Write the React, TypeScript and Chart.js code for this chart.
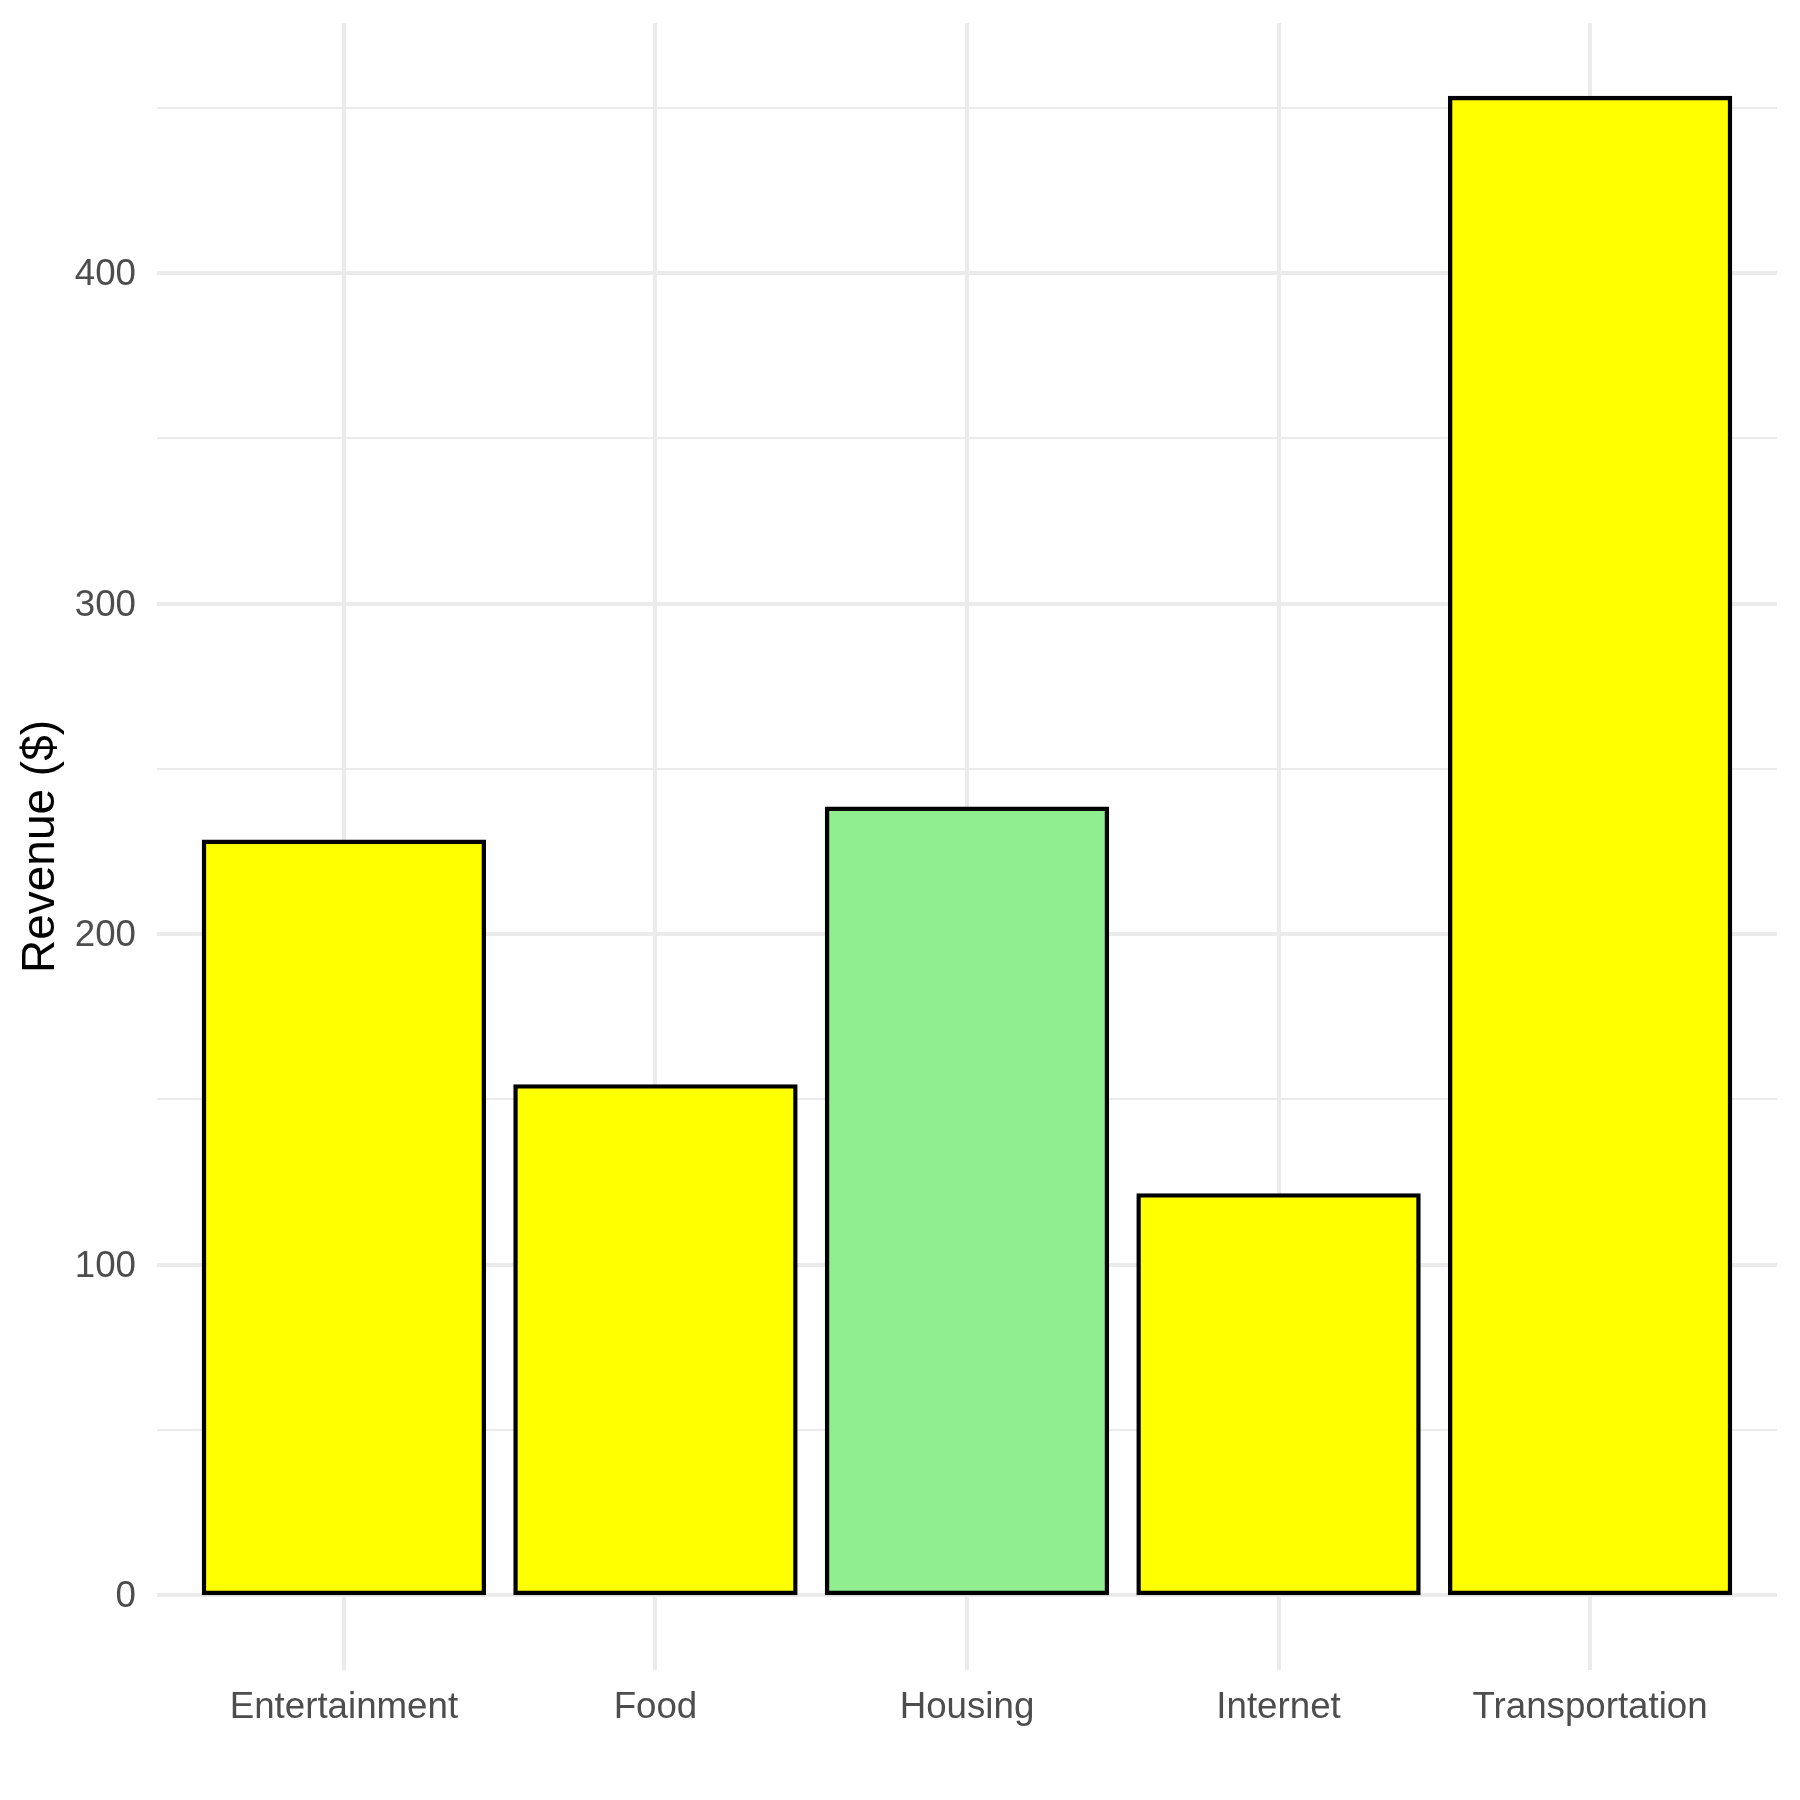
import React, { useEffect, useRef } from "react";
import { Chart, registerables } from "chart.js";

Chart.register(...registerables);

const categories = ["Entertainment", "Food", "Housing", "Internet", "Transportation"];
const revenue = [228, 154, 238, 121, 453];
const highlightCategory = "Housing";
const yMajorTicks = [0, 100, 200, 300, 400];
const yMinorTicks = [50, 150, 250, 350, 450];
const yAxisTitle = "Revenue ($)";

const FONT = "'Liberation Sans', Arial, Helvetica, sans-serif";

export default function App() {
  const ref = useRef<HTMLCanvasElement>(null);

  useEffect(() => {
    if (!ref.current) return;
    const maxV = Math.max(...revenue);
    const minV = Math.min(0, ...revenue);
    const span = maxV - minV;
    const yMin = minV - 0.05 * span;
    const yMax = maxV + 0.05 * span;
    const allYTicks = [...yMajorTicks, ...yMinorTicks].sort((a, b) => a - b);

    const chart = new Chart(ref.current, {
      type: "bar",
      data: {
        datasets: [
          {
            data: categories.map((_, i) => ({ x: i + 1, y: revenue[i] })),
            backgroundColor: categories.map((c) => (c === highlightCategory ? "#90EE90" : "#FFFF00")),
            borderColor: "#000000",
            borderWidth: 4.4,
            borderSkipped: false,
            inflateAmount: 2,
            barPercentage: 0.9,
            categoryPercentage: 1,
          } as any,
        ],
      },
      options: {
        responsive: false,
        animation: false,
        devicePixelRatio: 1,
        layout: { padding: { left: 0, top: 23, right: 23, bottom: 0 } },
        plugins: {
          legend: { display: false },
          tooltip: { enabled: false },
          title: { display: false },
        },
        scales: {
          x: {
            type: "linear",
            min: 0.4,
            max: categories.length + 0.6,
            offset: false,
            afterBuildTicks: (s: any) => {
              s.ticks = categories.map((_, i) => ({ value: i + 1 }));
            },
            afterFit: (s: any) => {
              s.height = 130;
              s.paddingLeft = 0;
              s.paddingRight = 0;
            },
            ticks: {
              callback: (v: any) => categories[Number(v) - 1] ?? "",
              color: "#4D4D4D",
              font: { family: FONT, size: 36.7 },
              padding: 16,
              maxRotation: 0,
              minRotation: 0,
              autoSkip: false,
            },
            grid: { color: "#EBEBEB", lineWidth: 4, drawTicks: false, offset: false },
            border: { display: false },
          },
          y: {
            type: "linear",
            min: yMin,
            max: yMax,
            afterBuildTicks: (s: any) => {
              s.ticks = allYTicks.map((v) => ({ value: v }));
            },
            afterFit: (s: any) => {
              s.width = 157;
              s.paddingTop = 0;
              s.paddingBottom = 0;
            },
            ticks: {
              callback: (v: any) => (yMajorTicks.includes(Number(v)) ? String(v) : ""),
              color: "#4D4D4D",
              font: { family: FONT, size: 36.7 },
              padding: 21,
              labelOffset: 2,
              autoSkip: false,
            },
            grid: {
              color: "#EBEBEB",
              lineWidth: (ctx: any) => (ctx.tick && yMajorTicks.includes(ctx.tick.value) ? 4 : 2),
              drawTicks: false,
            },
            border: { display: false },
            title: {
              display: true,
              text: yAxisTitle,
              color: "#000000",
              font: { family: FONT, size: 46 },
              padding: { top: 14, bottom: 0 },
            },
          },
        },
      } as any,
    });

    return () => chart.destroy();
  }, []);

  return (
    <div style={{ position: "absolute", left: 0, top: 0, width: 1800, height: 1800, background: "#ffffff" }}>
      <canvas ref={ref} width={1800} height={1800} style={{ width: 1800, height: 1800, display: "block" }} />
    </div>
  );
}
